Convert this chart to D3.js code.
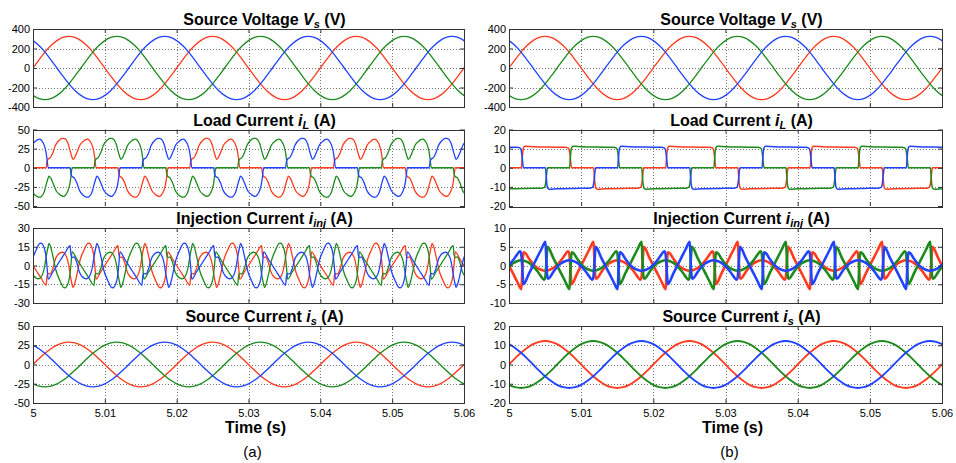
<!DOCTYPE html>
<meta charset="utf-8">
<style>
body {
  margin: 0;
  background: #fff;
  font-family: "Liberation Sans", Arial, sans-serif;
}
.axis text { font-size: 11px; fill: #000; }
.axis line { stroke: #333; }
.axis path { display: none; }
.grid line { stroke: #777; stroke-dasharray: 1,2; shape-rendering: crispEdges; }
.frame { fill: none; stroke: #333; shape-rendering: crispEdges; }
.title { font-size: 16px; font-weight: bold; }
.wave { fill: none; stroke-linejoin: round; }
</style>
<body>
<div id="svg"></div>
<script src="https://d3js.org/d3.v7.min.js"></script>
<script>

// time axis
var timeTicks = [5, 5.01, 5.02, 5.03, 5.04, 5.05, 5.06];
var tStart = 5, cycle = 0.02;   // 50 Hz, one cycle = 360 deg

// phase a (red) over one cycle; b and c are the same wave 120 deg apart
var sineDeg = [0, 15, 30, 45, 60, 75, 90, 105, 120, 135, 150, 165,
               180, 195, 210, 225, 240, 255, 270, 285, 300, 315, 330, 345];
var vsPhaseA = [0, 84, 163, 230, 281, 314, 325, 314, 281, 230, 163, 84,
                0, -84, -163, -230, -281, -314, -325, -314, -281, -230, -163, -84];
var isPhaseA_a = [0, 7.5, 14.5, 20.5, 25.1, 28, 29, 28, 25.1, 20.5, 14.5, 7.5,
                  0, -7.5, -14.5, -20.5, -25.1, -28, -29, -28, -25.1, -20.5, -14.5, -7.5];
var isPhaseA_b = [0, 3.2, 6.1, 8.6, 10.6, 11.8, 12.2, 11.8, 10.6, 8.6, 6.1, 3.2,
                  0, -3.2, -6.1, -8.6, -10.6, -11.8, -12.2, -11.8, -10.6, -8.6, -6.1, -3.2];

var loadDeg_a = [0, 33, 35, 38, 43, 50, 56, 62, 68, 73, 77, 81, 85, 89, 93, 97, 100, 104, 110, 118,
                 127, 132, 137, 141, 145, 149, 152, 155, 158, 180, 213, 215, 218, 223, 230, 236, 242,
                 248, 253, 257, 261, 265, 269, 273, 277, 280, 284, 290, 298, 307, 312, 317, 321, 325,
                 329, 332, 335, 338];
var loadPhaseA_a = [0, 0, 8, 11.5, 13, 20, 29, 34, 37, 38.3, 38.5, 37.5, 35, 30, 22, 15, 11, 13, 20, 30,
                    35, 36.8, 37.5, 36, 33, 28, 22, 12, 0, 0, 0, -8, -11.5, -13, -20, -29, -34,
                    -37, -38.3, -38.5, -37.5, -35, -30, -22, -15, -11, -13, -20, -30, -35, -36.8, -37.5, -36, -33,
                    -28, -22, -12, 0];

var injDeg_a = [0, 10, 20, 33, 35, 38, 43, 50, 56, 62, 68, 73, 77, 81, 85, 89, 93, 97, 100, 104,
                110, 118, 127, 132, 137, 141, 145, 149, 152, 155, 158, 170,
                180, 190, 200, 213, 215, 218, 223, 230, 236, 242, 248, 253, 257, 261, 265, 269, 273, 277,
                280, 284, 290, 298, 307, 312, 317, 321, 325, 329, 332, 335, 338, 350];
var injPhaseA_a = [0, -5, -9.9, -15.8, -8.6, -6.4, -6.8, -2.2, 5, 8.4, 10.1, 10.6, 10.3, 8.8, 6.1, 1, -7, -13.8, -17.6, -15.1,
                   -7.3, 4.4, 11.8, 15.3, 17.7, 17.8, 16.4, 13.1, 8.4, -0.3, -10.9, -5,
                   0, 5, 9.9, 15.8, 8.6, 6.4, 6.8, 2.2, -5, -8.4, -10.1, -10.6, -10.3, -8.8, -6.1, -1, 7, 13.8,
                   17.6, 15.1, 7.3, -4.4, -11.8, -15.3, -17.7, -17.8, -16.4, -13.1, -8.4, 0.3, 10.9, 5];

var loadDeg_b = [0, 31, 33, 35, 37, 40, 60, 100, 140, 147, 150, 152, 154, 156,
                 180, 211, 213, 215, 217, 220, 240, 280, 320, 327, 330, 332, 334, 336];
var loadPhaseA_b = [0, 0, 5, 9.5, 10.8, 11.2, 11, 10.8, 10.7, 10.4, 9.5, 7, 3, 0,
                    0, 0, -5, -9.5, -10.8, -11.2, -11, -10.8, -10.7, -10.4, -9.5, -7, -3, 0];

var injDeg_b = [0, 10, 20, 31, 33, 35, 37, 40, 50, 60, 70, 80, 90, 100, 110, 120, 130, 140, 147, 150, 152, 154, 156, 170,
                180, 190, 200, 211, 213, 215, 217, 220, 230, 240, 250, 260, 270, 280, 290, 300, 310, 320, 327, 330, 332, 334, 336, 350];
var injPhaseA_b = [0, -2.1, -4.2, -6.3, -1.6, 2.5, 3.5, 3.4, 1.8, 0.4, -0.6, -1.15, -1.4, -1.2, -0.7, 0.2, 1.4, 2.9, 3.8, 3.4, 1.3, -2.3, -5, -2.1,
                   0, 2.1, 4.2, 6.3, 1.6, -2.5, -3.5, -3.4, -1.8, -0.4, 0.6, 1.15, 1.4, 1.2, 0.7, -0.2, -1.4, -2.9, -3.8, -3.4, -1.3, 2.3, 5, 2.1];

// y ticks
var ticksVs = [-400, -200, 0, 200, 400];
var ticksIL_a = [-50, -25, 0, 25, 50];
var ticksInj_a = [-30, -15, 0, 15, 30];
var ticksIs_a = [-50, -25, 0, 25, 50];
var ticksIL_b = [-20, -10, 0, 10, 20];
var ticksInj_b = [-10, -5, 0, 5, 10];
var ticksIs_b = [-20, -10, 0, 10, 20];

// titles: [text, italic symbol, subscript, unit]
var titles = [
  ["Source Voltage ", "V", "s", " (V)"],
  ["Load Current ", "i", "L", " (A)"],
  ["Injection Current ", "i", "inj", " (A)"],
  ["Source Current ", "i", "s", " (A)"]
];
var columnLabels = ["(a)", "(b)"];

var phases = [
  {color: "#ff3b1f", shift: 0},
  {color: "#1c8a1c", shift: 120},
  {color: "#2143ff", shift: -120}
];

var columns = [
  {x0: 33, x1: 464, panels: [
    {deg: sineDeg, val: vsPhaseA, ticks: ticksVs, width: 1.3},
    {deg: loadDeg_a, val: loadPhaseA_a, ticks: ticksIL_a, width: 1.3},
    {deg: injDeg_a, val: injPhaseA_a, ticks: ticksInj_a, width: 1.3},
    {deg: sineDeg, val: isPhaseA_a, ticks: ticksIs_a, width: 1.4}]},
  {x0: 509, x1: 942, panels: [
    {deg: sineDeg, val: vsPhaseA, ticks: ticksVs, width: 1.3},
    {deg: loadDeg_b, val: loadPhaseA_b, ticks: ticksIL_b, width: 1.5},
    {deg: injDeg_b, val: injPhaseA_b, ticks: ticksInj_b, width: 2.6},
    {deg: sineDeg, val: isPhaseA_b, ticks: ticksIs_b, width: 1.8}]}
];
var panelY = [[29, 107], [129.5, 206], [228, 303], [326, 403]];

var svg = d3.select("#svg").append("svg")
    .attr("width", 956)
    .attr("height", 463);

// build a phase's points: the cycle shifted by the phase angle, repeated over the window
function phasePoints(deg, val, shift) {
  var pts = [];
  for (var k = -1; k <= 4; k++) {
    deg.forEach(function(d, i) {
      var t = tStart + (d + shift + k * 360) / 360 * cycle;
      if (t >= tStart - cycle / 2 && t <= timeTicks[6] + cycle / 2) pts.push([t, val[i]]);
    });
  }
  return pts.sort(function(a, b) { return a[0] - b[0]; });
}

columns.forEach(function(col, ci) {
  var x = d3.scaleLinear().domain([tStart, timeTicks[6]]).range([col.x0, col.x1]);

  col.panels.forEach(function(p, pi) {
    var y0 = panelY[pi][0], y1 = panelY[pi][1];
    var y = d3.scaleLinear().domain([p.ticks[0], p.ticks[p.ticks.length - 1]]).range([y1, y0]);
    var g = svg.append("g");

    var clipId = "clip" + ci + pi;
    g.append("clipPath").attr("id", clipId)
      .append("rect").attr("x", col.x0).attr("y", y0)
      .attr("width", col.x1 - col.x0).attr("height", y1 - y0);

    // grid
    var grid = g.append("g").attr("class", "grid");
    grid.selectAll(".gx").data(timeTicks.slice(1, -1)).enter().append("line")
      .attr("x1", function(d) { return Math.round(x(d)) + 0.5; })
      .attr("x2", function(d) { return Math.round(x(d)) + 0.5; })
      .attr("y1", y0).attr("y2", y1);
    grid.selectAll(".gy").data(p.ticks.slice(1, -1)).enter().append("line")
      .attr("y1", function(d) { return Math.round(y(d)) + 0.5; })
      .attr("y2", function(d) { return Math.round(y(d)) + 0.5; })
      .attr("x1", col.x0).attr("x2", col.x1);

    // waves
    var line = d3.line()
      .x(function(d) { return x(d[0]); })
      .y(function(d) { return y(d[1]); })
      .curve(d3.curveMonotoneX);
    phases.forEach(function(ph) {
      g.append("path")
        .datum(phasePoints(p.deg, p.val, ph.shift))
        .attr("class", "wave")
        .attr("clip-path", "url(#" + clipId + ")")
        .style("stroke", ph.color)
        .style("stroke-width", p.width)
        .attr("d", line);
    });

    // axes with inward ticks
    g.append("g").attr("class", "axis")
      .attr("transform", "translate(" + col.x0 + ",0)")
      .call(d3.axisLeft(y).tickValues(p.ticks).tickSize(-4).tickPadding(3).tickFormat(function(d) { return d; }));
    g.append("g").attr("class", "axis")
      .attr("transform", "translate(" + col.x1 + ",0)")
      .call(d3.axisRight(y).tickValues(p.ticks).tickSize(-4).tickFormat(""));
    g.append("g").attr("class", "axis")
      .attr("transform", "translate(0," + y0 + ")")
      .call(d3.axisTop(x).tickValues(timeTicks).tickSize(-4).tickFormat(""));
    g.append("g").attr("class", "axis")
      .attr("transform", "translate(0," + y1 + ")")
      .call(d3.axisBottom(x).tickValues(timeTicks).tickSize(-4).tickPadding(6)
        .tickFormat(pi === 3 ? function(d) { return d; } : ""));

    g.append("rect").attr("class", "frame")
      .attr("x", col.x0 + 0.5).attr("y", Math.round(y0) + 0.5)
      .attr("width", col.x1 - col.x0).attr("height", Math.round(y1 - y0));

    // title
    var tt = titles[pi];
    var title = g.append("text").attr("class", "title")
      .attr("x", (col.x0 + col.x1) / 2 + 16).attr("y", y0 - 4)
      .attr("text-anchor", "middle");
    title.append("tspan").text(tt[0]);
    title.append("tspan").style("font-style", "italic").text(tt[1]);
    title.append("tspan").style("font-style", "italic").style("font-size", "11px")
      .attr("dy", 3).text(tt[2]);
    title.append("tspan").attr("dy", -3).text(tt[3]);
  });

  svg.append("text").attr("class", "title")
    .attr("x", (col.x0 + col.x1) / 2 + 7).attr("y", 433)
    .attr("text-anchor", "middle")
    .text("Time (s)");
  svg.append("text")
    .attr("x", (col.x0 + col.x1) / 2 + 4).attr("y", 457)
    .attr("text-anchor", "middle")
    .style("font-size", "15px")
    .text(columnLabels[ci]);
});

</script>
</body>
